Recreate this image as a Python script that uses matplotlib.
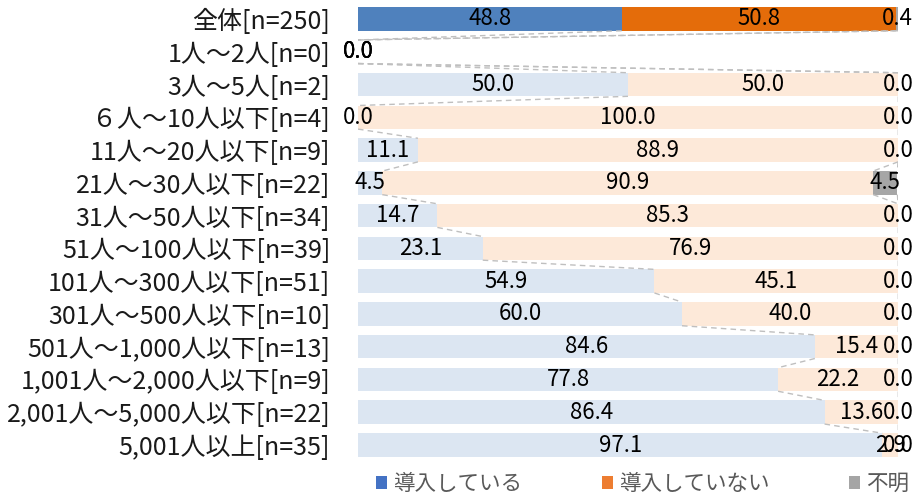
import matplotlib
matplotlib.use("Agg")
import matplotlib.pyplot as plt
from matplotlib.patches import Patch
import numpy as np

plt.rcParams['font.family'] = ['Noto Sans CJK JP', 'DejaVu Sans']

categories = ["全体[n=250]", "1人～2人[n=0]", "3人～5人[n=2]", "６人～10人以下[n=4]",
              "11人～20人以下[n=9]", "21人～30人以下[n=22]", "31人～50人以下[n=34]",
              "51人～100人以下[n=39]", "101人～300人以下[n=51]", "301人～500人以下[n=10]",
              "501人～1,000人以下[n=13]", "1,001人～2,000人以下[n=9]",
              "2,001人～5,000人以下[n=22]", "5,001人以上[n=35]"]
series_names = ["導入している", "導入していない", "不明"]
introduced = [48.8, 0.0, 50.0, 0.0, 11.1, 4.5, 14.7, 23.1, 54.9, 60.0, 84.6, 77.8, 86.4, 97.1]
not_introduced = [50.8, 0.0, 50.0, 100.0, 88.9, 90.9, 85.3, 76.9, 45.1, 40.0, 15.4, 22.2, 13.6, 2.9]
unknown = [0.4, 0.0, 0.0, 0.0, 0.0, 4.5, 0.0, 0.0, 0.0, 0.0, 0.0, 0.0, 0.0, 0.0]

data = np.array([introduced, not_introduced, unknown])
n = len(categories)
y = np.arange(n)

strong = ["#4f81bd", "#e46c0a", "#a6a6a6"]
light = ["#dce6f2", "#fde9d9", "#a6a6a6"]
legend_cols = ["#4472c4", "#ed7d31", "#a5a5a5"]

fig = plt.figure(figsize=(9.18, 4.94), dpi=100)
ax = fig.add_axes([358/918, 1-461.4/494, 540/918, (461.4-2.6)/494])

h = 0.72
left = np.zeros(n)
for k in range(3):
    cols = [strong[k] if i == 0 else light[k] for i in range(n)]
    ax.barh(y, data[k], left=left, height=h, color=cols, zorder=2)
    for i in range(n):
        ax.text(left[i] + data[k][i] / 2, y[i], f"{data[k][i]:.1f}", ha='center', va='center',
                fontsize=16, color='black', zorder=4)
    left = left + data[k]

# series lines
cum = np.cumsum(data, axis=0)
for k in range(3):
    for i in range(n - 1):
        ax.plot([cum[k][i], cum[k][i + 1]], [y[i] + h/2, y[i + 1] - h/2],
                color='#bfbfbf', lw=1.0, ls=(0, (4, 3)), zorder=3)

ax.set_xlim(0, 100)
ax.set_ylim(n - 0.5, -0.5)
ax.set_yticks(y)
ax.set_yticklabels(categories, fontsize=18, color='#1a1a1a')
ax.tick_params(axis='y', length=0, pad=20)
ax.set_xticks([])
for s in ax.spines.values():
    s.set_visible(False)

handles = [Patch(facecolor=c, edgecolor='none') for c in legend_cols]
fig.legend(handles, series_names, loc='center', bbox_to_anchor=(0.70, 0.02), ncol=3,
           frameon=False, fontsize=15.5, labelcolor='#595959', handlelength=0.5, handleheight=0.5,
           handletextpad=0.3, columnspacing=3.7)

fig.savefig("out.png", dpi=100)
